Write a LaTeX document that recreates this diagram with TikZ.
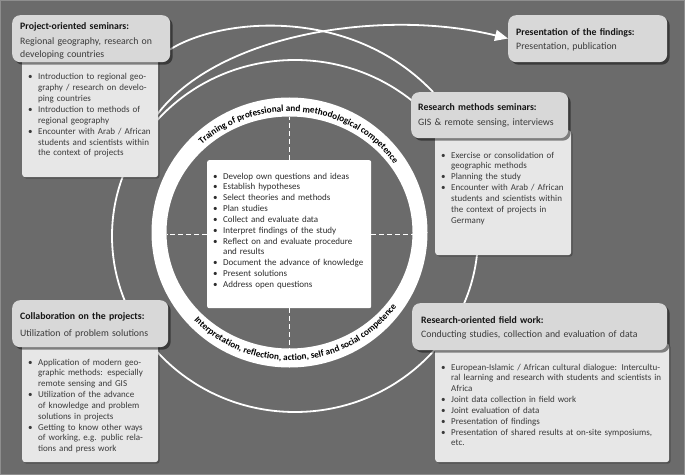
\documentclass[tikz,border=0pt]{standalone}
\usepackage{fontspec}
\setmainfont{Carlito}
\usetikzlibrary{arrows.meta,shadows,decorations.text,calc}
\definecolor{bgc}{HTML}{6B6B6B}
\definecolor{framec}{HTML}{8E8E8E}
\definecolor{hdrc}{HTML}{D8D8D8}
\definecolor{bodyc}{HTML}{E7E7E7}
\definecolor{txtc}{HTML}{3A3A3A}
\definecolor{ttlc}{HTML}{151515}
\newcommand{\bitem}[1]{\hangindent=16pt\hangafter=1\noindent\makebox[16pt][l]{\hspace{6pt}\textbullet}#1\par}
\tikzset{
  hdrbox/.style={fill=hdrc, rounded corners=8pt, inner sep=0pt, anchor=north west,
    drop shadow={shadow xshift=2.5pt, shadow yshift=-2.5pt, opacity=0.45, fill=black}},
  bodybox/.style={fill=bodyc, rounded corners=3pt, inner sep=0pt, anchor=north west,
    drop shadow={shadow xshift=1.5pt, shadow yshift=-1.5pt, opacity=0.25, fill=black}},
  cboxstyle/.style={fill=white, rounded corners=2pt, inner sep=0pt, anchor=north west},
  hdrtext/.style={anchor=base west, inner sep=0pt, align=left, text width=250pt, text=txtc,
    font=\fontsize{9.8}{13}\selectfont},
  listtext/.style={anchor=base west, inner sep=0pt, text width=240pt, align=left, text=txtc,
    font=\fontsize{9}{10.85}\selectfont},
  flow/.style={draw=white, line width=1.8pt},
  cross/.style={draw=white, line width=1.3pt, dash pattern=on 5pt off 3pt},
}
\newcommand{\ttl}[1]{{\bfseries\color{ttlc}#1}}
\begin{document}
\begin{tikzpicture}[x=1pt,y=1pt]
\useasboundingbox (0,0) rectangle (685,475);
\fill[bgc] (0,0) rectangle (685,475);
\draw[framec, line width=1pt] (0.5,0.5) rectangle (684.5,474.5);

% centres
\coordinate (loopc) at (295,239);
\coordinate (ringc) at (289.5,242.5);

% big loop
\draw[flow] (loopc) ellipse[x radius=183, y radius=176];

% ring
\fill[white, even odd rule] (ringc) ellipse[x radius=138, y radius=135]
                            (ringc) ellipse[x radius=123, y radius=116];
\coordinate (rtop) at ($(ringc)+(0,116)$);
\coordinate (rbot) at ($(ringc)+(0,-116)$);
\coordinate (rleft) at ($(ringc)+(-123,-1)$);
\coordinate (rright) at ($(ringc)+(123,-1)$);

\path[decorate, decoration={text along path, text align=center,
  text={|\fontsize{9.2}{10}\selectfont\bfseries|Training of professional and methodological competence}}]
  ($(ringc)+(154:127 and 121)$) arc[start angle=154, end angle=14, x radius=127, y radius=121];
\path[decorate, decoration={text along path, text align=center,
  text={|\fontsize{9.2}{10}\selectfont\bfseries|Interpretation, reflection, action, self and social competence}}]
  ($(ringc)+(210:131 and 128)$) arc[start angle=210, end angle=338, x radius=131, y radius=128];

% centre box
\node[cboxstyle, minimum width=164pt, minimum height=148pt] (cbox) at (207,315) {};
\draw[cross] (cbox.north) -- (cbox.north |- rtop);
\draw[cross] (cbox.south) -- (cbox.south |- rbot);
\draw[cross] (cbox.west) -- (rleft |- cbox.west);
\draw[cross] (cbox.east) -- (rright |- cbox.east);
\node[listtext, text=ttlc!90] (clist) at (207,296) {%
\bitem{Develop own questions and ideas}
\bitem{Establish hypotheses}
\bitem{Select theories and methods}
\bitem{Plan studies}
\bitem{Collect and evaluate data}
\bitem{Interpret findings of the study}
\bitem{Reflect on and evaluate procedure\newline and results}
\bitem{Document the advance of knowledge}
\bitem{Present solutions}
\bitem{Address open questions}};

% curve end points
\coordinate (branch) at (150,350);

% curves (drawn before boxes)
\draw[flow] (170,425.5) .. controls (220,457) and (350,470) .. (433,383);
\draw[flow, -{Triangle[length=13pt,width=11pt]}] (branch) .. controls (205,440) and (380,468) .. (508,436.5);

% body boxes
\node[bodybox, minimum width=136pt, minimum height=122pt] (projb) at (22,420) {};
\node[bodybox, minimum width=136pt, minimum height=125pt] (rmsb) at (435,345) {};
\node[bodybox, minimum width=136pt, minimum height=122pt] (colb) at (22,135) {};
\node[bodybox, minimum width=234pt, minimum height=119pt] (fieldb) at (435,132) {};

% header boxes
\node[hdrbox, minimum width=158pt, minimum height=47pt] (proj) at (12,460) {};
\node[hdrbox, minimum width=159pt, minimum height=47pt] (pres) at (508,460) {};
\node[hdrbox, minimum width=157pt, minimum height=46pt] (rms) at (411,383) {};
\node[hdrbox, minimum width=156pt, minimum height=47pt] (col) at (12,175) {};
\node[hdrbox, minimum width=255pt, minimum height=47pt] (field) at (412,172) {};

% header texts
\node[hdrtext] (projt) at (20,445) {\ttl{Project-oriented seminars:}\\[2pt]Regional geography, research on\\developing countries};
\node[hdrtext] (prest) at (516,439) {\ttl{Presentation of the findings:}\\[1pt]Presentation, publication};
\node[hdrtext] (rmst) at (418,364) {\ttl{Research methods seminars:}\\[2pt]GIS \& remote sensing, interviews};
\node[hdrtext] (colt) at (20,156) {\ttl{Collaboration on the projects:}\\[4pt]Utilization of problem solutions};
\node[hdrtext] (fieldt) at (421,152) {\ttl{Research-oriented field work:}\\[1pt]Conducting studies, collection and evaluation of data};

% body lists
\node[listtext] (projl) at (22,395) {%
\bitem{Introduction to regional geo-\newline graphy / research on develo-\newline ping countries}
\bitem{Introduction to methods of\newline regional geography}
\bitem{Encounter with Arab / African\newline students and scientists within\newline the context of projects}};
\node[listtext] (rmsl) at (435,317) {%
\bitem{Exercise or consolidation of\newline geographic methods}
\bitem{Planning the study}
\bitem{Encounter with Arab / African\newline students and scientists within\newline the context of projects in\newline Germany}};
\node[listtext] (coll) at (22,110) {%
\bitem{Application of modern geo-\newline graphic methods: especially\newline remote sensing and GIS}
\bitem{Utilization of the advance\newline of knowledge and problem\newline solutions in projects}
\bitem{Getting to know other ways\newline of working, e.g. public rela-\newline tions and press work}};
\node[listtext] (fieldl) at (435,105) {%
\bitem{European-Islamic / African cultural dialogue: Intercultu-\newline ral learning and research with students and scientists in\newline Africa}
\bitem{Joint data collection in field work}
\bitem{Joint evaluation of data}
\bitem{Presentation of findings}
\bitem{Presentation of shared results at on-site symposiums,\newline etc.}};
\end{tikzpicture}
\end{document}
